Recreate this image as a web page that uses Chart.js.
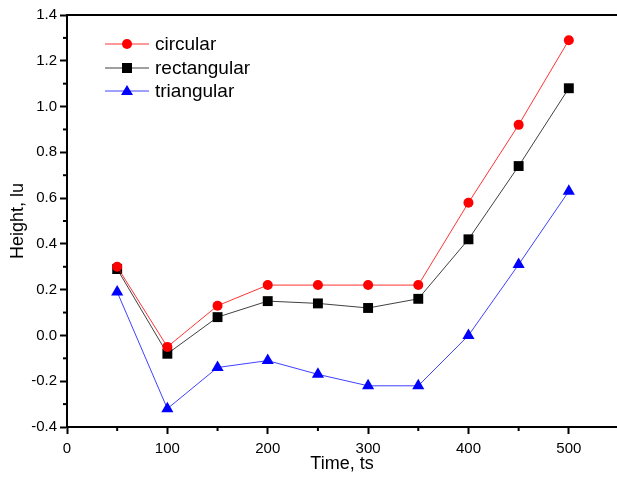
<!DOCTYPE html>
<html>
<head>
<meta charset="utf-8">
<script src="https://cdn.jsdelivr.net/npm/chart.js@4/dist/chart.umd.min.js"></script>
<style>
  html, body { margin: 0; padding: 0; background: #fff; }
  #wrap { width: 617px; height: 477px; position: relative; }
</style>
</head>
<body>
<div id="wrap"><canvas id="heightChart"></canvas></div>
<script>
const times = [50, 100, 150, 200, 250, 300, 350, 400, 450, 500];
const circular = [0.30, -0.05, 0.13, 0.22, 0.22, 0.22, 0.22, 0.58, 0.92, 1.29];
const rectangular = [0.29, -0.08, 0.08, 0.15, 0.14, 0.12, 0.16, 0.42, 0.74, 1.08];
const triangular = [0.19, -0.32, -0.14, -0.11, -0.17, -0.22, -0.22, 0.00, 0.31, 0.63];
const xTicks = [0, 100, 200, 300, 400, 500];
const xMinorTicks = [50, 150, 250, 350, 450, 550];
const yMinorTicks = [-0.3, -0.1, 0.1, 0.3, 0.5, 0.7, 0.9, 1.1, 1.3];

const FONT = "'Liberation Sans', Arial, sans-serif";

const toPoints = (ys) => times.map((t, i) => ({ x: t, y: ys[i] }));

// minor ticks, top border and the in-plot legend
const extrasPlugin = {
  id: "extras",
  afterDraw(chart) {
    const ctx = chart.ctx;
    const area = chart.chartArea;
    const xs = chart.scales.x;
    const ys = chart.scales.y;
    ctx.save();
    ctx.strokeStyle = "#000";
    ctx.lineWidth = 2;
    ctx.beginPath();
    ctx.moveTo(area.left - 1, area.top);
    ctx.lineTo(area.right, area.top);
    ctx.stroke();

    xMinorTicks.forEach((v) => {
      const px = xs.getPixelForValue(v);
      if (px > area.right) return;
      ctx.beginPath();
      ctx.moveTo(px, area.bottom);
      ctx.lineTo(px, area.bottom + 4);
      ctx.stroke();
    });
    yMinorTicks.forEach((v) => {
      const py = ys.getPixelForValue(v);
      ctx.beginPath();
      ctx.moveTo(area.left - 4, py);
      ctx.lineTo(area.left, py);
      ctx.stroke();
    });

    // legend
    const rows = [44, 68, 91];
    chart.data.datasets.forEach((ds, i) => {
      const y = rows[i];
      ctx.strokeStyle = ds.borderColor;
      ctx.lineWidth = 1;
      ctx.beginPath();
      ctx.moveTo(105, y);
      ctx.lineTo(149, y);
      ctx.stroke();
      ctx.fillStyle = ds.pointBackgroundColor;
      ctx.beginPath();
      if (ds.pointStyle === "circle") {
        ctx.arc(127, y, 5, 0, Math.PI * 2);
      } else if (ds.pointStyle === "rect") {
        ctx.rect(122, y - 5, 10, 10);
      } else {
        ctx.moveTo(127, y - 6);
        ctx.lineTo(133, y + 4);
        ctx.lineTo(121, y + 4);
        ctx.closePath();
      }
      ctx.fill();
      ctx.fillStyle = "#000";
      ctx.font = "19px " + FONT;
      ctx.textBaseline = "middle";
      ctx.textAlign = "left";
      ctx.fillText(ds.label, 155, y + 1);
    });
    ctx.restore();
  },
};

const ctx = document.getElementById("heightChart").getContext("2d");
new Chart(ctx, {
  type: "line",
  data: {
    datasets: [
      {
        label: "circular",
        data: toPoints(circular),
        borderColor: "rgba(255, 0, 0, 0.8)",
        borderWidth: 1,
        pointStyle: "circle",
        pointRadius: 5,
        pointBackgroundColor: "#ff0000",
        pointBorderWidth: 0,
        tension: 0,
      },
      {
        label: "rectangular",
        data: toPoints(rectangular),
        borderColor: "rgba(0, 0, 0, 0.75)",
        borderWidth: 1,
        pointStyle: "rect",
        pointRadius: 7,
        pointBackgroundColor: "#000000",
        pointBorderWidth: 0,
        tension: 0,
      },
      {
        label: "triangular",
        data: toPoints(triangular),
        borderColor: "rgba(0, 0, 255, 0.75)",
        borderWidth: 1,
        pointStyle: "triangle",
        pointRadius: 7,
        pointBackgroundColor: "#0000ff",
        pointBorderWidth: 0,
        tension: 0,
      },
    ],
  },
  options: {
    responsive: true,
    maintainAspectRatio: false,
    animation: false,
    layout: { autoPadding: false, padding: { top: 15, left: 0, right: 0, bottom: 0 } },
    plugins: {
      legend: { display: false },
      tooltip: { enabled: false },
    },
    scales: {
      x: {
        type: "linear",
        min: 0,
        max: 548,
        afterBuildTicks: (scale) => {
          scale.ticks = xTicks.map((v) => ({ value: v }));
        },
        afterFit: (scale) => {
          scale.height = 50;
          scale.paddingRight = 0;
          scale.paddingLeft = 0;
        },
        ticks: {
          color: "#000",
          font: { family: FONT, size: 15 },
          padding: 6,
          maxRotation: 0,
        },
        grid: {
          drawOnChartArea: false,
          tickLength: 7,
          tickWidth: 2,
          tickColor: "#000",
        },
        border: { display: true, color: "#000", width: 2 },
        title: {
          display: true,
          text: "Time, ts",
          color: "#000",
          font: { family: FONT, size: 18 },
          padding: { top: 0, bottom: 2 },
        },
      },
      y: {
        type: "linear",
        min: -0.4,
        max: 1.4,
        afterFit: (scale) => {
          scale.width = 67;
          scale.paddingTop = 0;
          scale.paddingBottom = 0;
        },
        ticks: {
          stepSize: 0.2,
          color: "#000",
          font: { family: FONT, size: 15 },
          padding: 3,
          callback: (v) => (Math.abs(v) < 1e-9 ? 0 : v).toFixed(1),
        },
        grid: {
          drawOnChartArea: false,
          tickLength: 7,
          tickWidth: 2,
          tickColor: "#000",
        },
        border: { display: true, color: "#000", width: 2 },
        title: {
          display: true,
          text: "Height, lu",
          color: "#000",
          font: { family: FONT, size: 18 },
          padding: { top: 7, bottom: 0 },
        },
      },
    },
  },
  plugins: [extrasPlugin],
});
</script>
</body>
</html>
